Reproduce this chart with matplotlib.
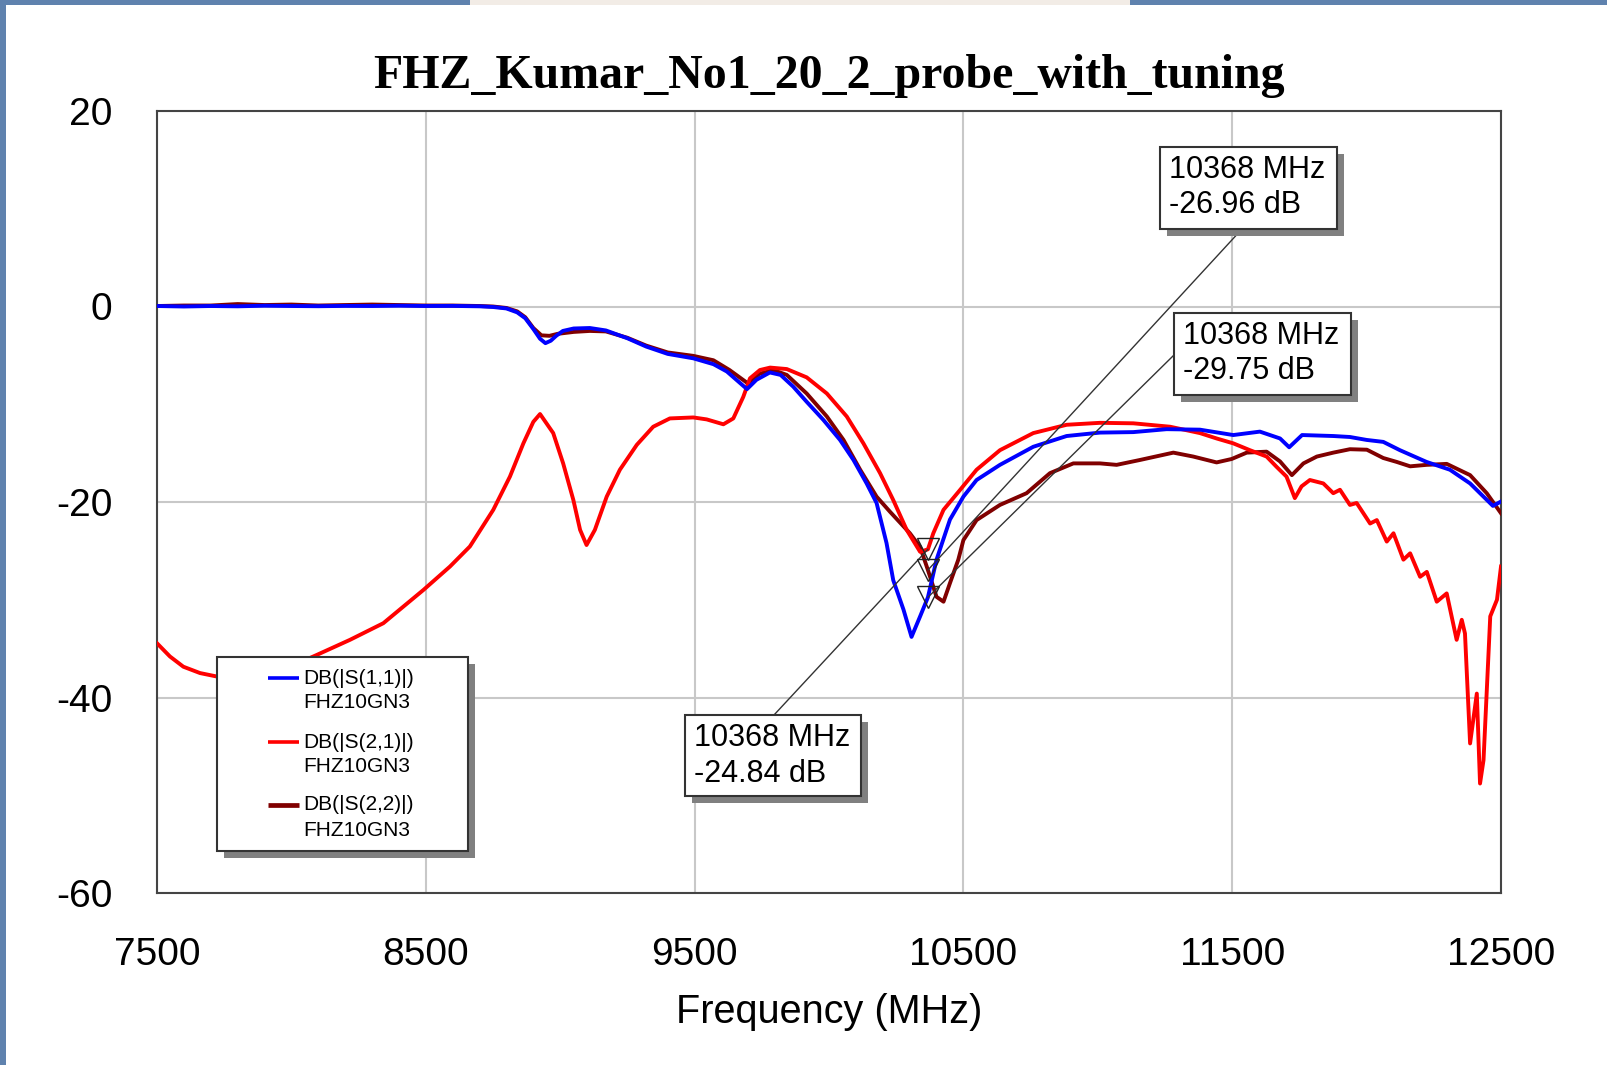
import matplotlib
matplotlib.use("Agg")
import matplotlib.pyplot as plt
from matplotlib.patches import Rectangle
from matplotlib.lines import Line2D
from matplotlib import transforms

plt.rcParams["axes.unicode_minus"] = False

# ---- measured S-parameters (frequency in MHz, magnitude in dB) ----
freq_s11 = [7500, 7600, 7700, 7800, 7900, 8000, 8100, 8200, 8300, 8400, 8500, 8600,
            8700, 8750, 8800, 8840, 8870, 8900, 8925, 8945, 8965, 8985, 9010, 9050,
            9110, 9170, 9250, 9320, 9400, 9495, 9570, 9620, 9670, 9695, 9730, 9780,
            9820, 9867, 9917, 9979, 10041, 10091, 10140, 10177, 10214, 10239, 10277,
            10307, 10339, 10368, 10400, 10450, 10500, 10549, 10636, 10760, 10884,
            11008, 11132, 11256, 11380, 11504, 11603, 11678, 11712, 11760, 11876,
            11938, 12000, 12062, 12124, 12223, 12310, 12385, 12470, 12500]
db_s11 = [0.05, 0.0, 0.05, 0.02, 0.08, 0.05, 0.03, 0.06, 0.05, 0.08, 0.05, 0.06,
          0.02, -0.05, -0.2, -0.6, -1.2, -2.3, -3.3, -3.75, -3.5, -3.0, -2.5, -2.25,
          -2.2, -2.45, -3.25, -4.1, -4.85, -5.3, -5.9, -6.65, -7.85, -8.45, -7.5, -6.75,
          -7.0, -8.2, -9.75, -11.6, -13.65, -15.7, -18.1, -20.1, -24.2, -28.0, -31.0,
          -33.8, -31.7, -29.75, -25.9, -21.8, -19.45, -17.75, -16.2, -14.35, -13.25,
          -12.9, -12.85, -12.55, -12.6, -13.15, -12.8, -13.5, -14.4, -13.15, -13.25,
          -13.35, -13.65, -13.85, -14.7, -15.9, -16.7, -18.1, -20.4, -19.95]

freq_s21 = [7500, 7548, 7598, 7660, 7722, 7800, 7900, 8000, 8094, 8218, 8342, 8491,
            8590, 8664, 8751, 8813, 8863, 8900, 8925, 8974, 9011, 9049, 9074, 9098,
            9129, 9173, 9222, 9285, 9346, 9408, 9495, 9545, 9607, 9644, 9681, 9706,
            9743, 9781, 9843, 9917, 9992, 10066, 10128, 10190, 10239, 10289, 10339,
            10368, 10388, 10426, 10488, 10549, 10636, 10760, 10884, 11008, 11132,
            11269, 11380, 11442, 11504, 11566, 11628, 11665, 11702, 11733, 11758,
            11789, 11839, 11876, 11901, 11938, 11963, 12013, 12038, 12075, 12100,
            12137, 12162, 12199, 12224, 12261, 12298, 12335, 12354, 12366, 12385,
            12410, 12422, 12435, 12460, 12485, 12500]
db_s21 = [-34.45, -35.8, -36.85, -37.5, -37.85, -38.0, -37.6, -36.8, -35.65, -34.1,
          -32.4, -29.0, -26.6, -24.55, -20.8, -17.4, -14.0, -11.8, -11.0, -12.95,
          -16.05, -19.8, -22.85, -24.4, -22.85, -19.45, -16.7, -14.15, -12.3, -11.45,
          -11.35, -11.55, -12.05, -11.45, -9.25, -7.35, -6.5, -6.25, -6.4, -7.25,
          -8.9, -11.25, -14.0, -17.05, -19.8, -22.85, -25.1, -24.84, -23.2, -20.8,
          -18.75, -16.7, -14.7, -12.95, -12.1, -11.9, -11.95, -12.3, -12.95, -13.5,
          -14.0, -14.7, -15.35, -16.4, -17.4, -19.6, -18.4, -17.75, -18.1, -19.1,
          -18.75, -20.3, -20.1, -22.2, -21.85, -24.05, -23.2, -25.9, -25.25, -27.65,
          -27.15, -30.2, -29.35, -34.1, -32.05, -33.45, -44.7, -39.6, -48.8, -46.4,
          -31.7, -30.0, -26.6]

freq_s22 = [7500, 7600, 7700, 7800, 7900, 8000, 8100, 8200, 8300, 8400, 8500, 8600,
            8700, 8750, 8800, 8840, 8870, 8900, 8930, 8960, 8990, 9050, 9110, 9170,
            9250, 9320, 9400, 9495, 9570, 9630, 9700, 9740, 9793, 9843, 9917, 9992,
            10054, 10116, 10177, 10227, 10264, 10301, 10339, 10368, 10400, 10426,
            10450, 10481, 10500, 10549, 10636, 10735, 10822, 10909, 11008, 11070,
            11157, 11281, 11355, 11442, 11498, 11554, 11628, 11678, 11722, 11765,
            11815, 11876, 11938, 12001, 12062, 12112, 12162, 12223, 12298, 12385,
            12447, 12500]
db_s22 = [0.05, 0.1, 0.1, 0.25, 0.15, 0.2, 0.1, 0.15, 0.2, 0.15, 0.1, 0.1,
          0.05, 0.0, -0.15, -0.5, -1.1, -2.2, -2.95, -3.0, -2.8, -2.6, -2.5, -2.55,
          -3.2, -4.0, -4.7, -5.05, -5.5, -6.5, -7.9, -6.9, -6.5, -7.0, -8.9, -11.25,
          -13.65, -16.7, -19.45, -21.0, -22.1, -23.2, -24.6, -26.96, -29.7, -30.2,
          -28.3, -25.9, -23.9, -21.85, -20.3, -19.1, -17.05, -16.05, -16.05, -16.2,
          -15.7, -14.95, -15.35, -15.95, -15.6, -14.95, -14.85, -15.85, -17.25, -16.05,
          -15.35, -14.95, -14.6, -14.65, -15.5, -15.9, -16.35, -16.2, -16.1, -17.25,
          -19.1, -21.15]

series_labels = ["DB(|S(1,1)|)", "DB(|S(2,1)|)", "DB(|S(2,2)|)"]
device_name = "FHZ10GN3"

# markers at 10368 MHz
marker_freq = 10368
marker_db_s21 = -24.84
marker_db_s22 = -26.96
marker_db_s11 = -29.75

x_ticks = [7500, 8500, 9500, 10500, 11500, 12500]
y_ticks = [-60, -40, -20, 0, 20]
title_text = "FHZ_Kumar_No1_20_2_probe_with_tuning"
x_label = "Frequency (MHz)"

# ---- figure layout (pixels) ----
W, H = 1607, 1065
AX_L, AX_R, AX_T, AX_B = 157, 1501, 111, 893

C_BLUE = "#0000ff"
C_RED = "#ff0000"
C_BROWN = "#800000"
SANS = "Liberation Sans"

fig = plt.figure(figsize=(W / 100, H / 100), dpi=100)
fig.patch.set_facecolor("white")

# slide frame around the plot
frame_col = "#5f82ae"
fig.patches.append(Rectangle((0, 0), 6 / W, 1, transform=fig.transFigure,
                             facecolor=frame_col, edgecolor="none", zorder=0))
fig.patches.append(Rectangle((0, 1 - 5 / H), 1, 5 / H, transform=fig.transFigure,
                             facecolor=frame_col, edgecolor="none", zorder=0))
fig.patches.append(Rectangle((470 / W, 1 - 5 / H), (1130 - 470) / W, 5 / H,
                             transform=fig.transFigure,
                             facecolor="#f2ece6", edgecolor="none", zorder=1))

ax = fig.add_axes([AX_L / W, 1 - AX_B / H, (AX_R - AX_L) / W, (AX_B - AX_T) / H])


def axfrac(px, py):
    return ((px - AX_L) / (AX_R - AX_L), (AX_B - py) / (AX_B - AX_T))


ax.set_xlim(7500, 12500)
ax.set_ylim(-60, 20)
ax.set_xticks(x_ticks)
ax.set_yticks(y_ticks)
ax.grid(True, color="#c8c8c8", linewidth=1.5)
ax.set_axisbelow(True)
ax.tick_params(length=0, labelsize=28, pad=32)
for lab in ax.get_xticklabels() + ax.get_yticklabels():
    lab.set_fontfamily(SANS)
for sp in ax.spines.values():
    sp.set_color("#444444")
    sp.set_linewidth(1.5)

ax.plot(freq_s22, db_s22, color=C_BROWN, lw=2.8, zorder=3)
ax.plot(freq_s11, db_s11, color=C_BLUE, lw=2.8, zorder=4)
ax.plot(freq_s21, db_s21, color=C_RED, lw=2.8, zorder=3.5)

# title and axis label
fig.text((AX_L + AX_R) / 2 / W, 1 - 88 / H, title_text, ha="center", va="baseline",
         fontsize=34.5, fontweight="bold", family="Liberation Serif")
ax.set_xlabel(x_label, fontsize=28.5, family=SANS, labelpad=14)

# ---- markers with readout boxes ----
shadow_tr = transforms.offset_copy(ax.transAxes, fig=fig, x=7, y=-7, units="dots")
readouts = [
    # value, box (left, top, right, bottom) px, leader end px, text line centers
    (marker_db_s22, (1160, 147, 1337, 229), (1242, 229), (170, 205)),
    (marker_db_s11, (1174, 313, 1351, 395), (1174, 355), (336, 371)),
    (marker_db_s21, (685, 715, 861, 796), (774, 715), (738, 774)),
]
for val, (bl, bt, br, bb), (lx, ly), (t1, t2) in readouts:
    ax.annotate("", xy=(marker_freq, val), xycoords="data",
                xytext=axfrac(lx, ly), textcoords="axes fraction",
                arrowprops=dict(arrowstyle="-", color="#333333", lw=1.0,
                                shrinkA=0, shrinkB=0), zorder=5)
    x0, y0 = axfrac(bl, bb)
    x1, y1 = axfrac(br, bt)
    ax.add_patch(Rectangle((x0, y0), x1 - x0, y1 - y0, transform=shadow_tr,
                           facecolor="#808080", edgecolor="none", zorder=6,
                           clip_on=False))
    ax.add_patch(Rectangle((x0, y0), x1 - x0, y1 - y0, transform=ax.transAxes,
                           facecolor="white", edgecolor="#333333", lw=1.5, zorder=7,
                           clip_on=False))
    tx = axfrac(bl + 9, 0)[0]
    ax.text(tx, axfrac(0, t1)[1], f"{marker_freq} MHz", transform=ax.transAxes,
            ha="left", va="center", fontsize=22, family=SANS, zorder=8)
    ax.text(tx, axfrac(0, t2)[1], f"{val:.2f} dB", transform=ax.transAxes,
            ha="left", va="center", fontsize=22, family=SANS, zorder=8)
    ax.plot([marker_freq], [val], marker="v", ms=16, mfc="none", mec="#222222",
            mew=1.0, zorder=5.5, linestyle="none")

# ---- legend box ----
lg_l, lg_t, lg_r, lg_b = 217, 657, 468, 851
x0, y0 = axfrac(lg_l, lg_b)
x1, y1 = axfrac(lg_r, lg_t)
ax.add_patch(Rectangle((x0, y0), x1 - x0, y1 - y0, transform=shadow_tr,
                       facecolor="#808080", edgecolor="none", zorder=9))
ax.add_patch(Rectangle((x0, y0), x1 - x0, y1 - y0, transform=ax.transAxes,
                       facecolor="white", edgecolor="#333333", lw=1.5, zorder=10))
legend_rows = [(C_BLUE, 2.6, 678, 702), (C_RED, 2.6, 742, 766), (C_BROWN, 3.4, 805, 830)]
for label, (col, lw, ya, yb) in zip(series_labels, legend_rows):
    hx0 = axfrac(268, 0)[0]
    hx1 = axfrac(299, 0)[0]
    yy = axfrac(0, ya)[1]
    ax.add_line(Line2D([hx0, hx1], [yy, yy], transform=ax.transAxes, color=col,
                       lw=lw, zorder=11, solid_capstyle="butt"))
    tx = axfrac(303, 0)[0]
    ax.text(tx, yy, label, transform=ax.transAxes, ha="left", va="center",
            fontsize=15, family=SANS, zorder=11)
    ax.text(tx, axfrac(0, yb)[1], device_name, transform=ax.transAxes, ha="left",
            va="center", fontsize=15, family=SANS, zorder=11)

fig.savefig("out.png", dpi=100)
